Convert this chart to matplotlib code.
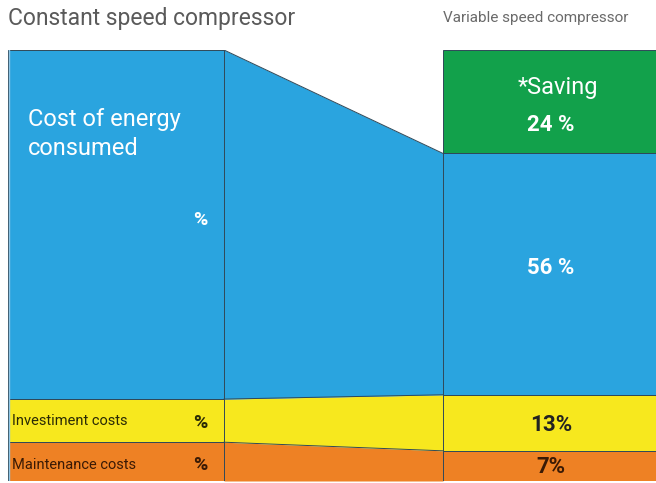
import matplotlib
matplotlib.use("Agg")
import matplotlib.pyplot as plt
import numpy as np

# ---- data ----
segments = ["Maintenance costs", "Investiment costs", "Cost of energy consumed", "*Saving"]
constant_values = [9, 10, 81, 0]
variable_values = [7, 13, 56, 24]
variable_labels = ["7%", "13%", "56 %", "24 %"]
constant_labels = ["%", "%", "%"]
colors = ["#EE8124", "#F7E81E", "#2AA4DF", "#12A14B"]
title_left = "Constant speed compressor"
title_right = "Variable speed compressor"

W, H = 656, 483
fig = plt.figure(figsize=(W / 100, H / 100), dpi=100)
fig.patch.set_facecolor("white")

# axes in pixel-like coordinates
ax = fig.add_axes([8 / W, 2 / H, 648 / W, 431 / H])
ax.set_xlim(0, 648)
ax.set_ylim(0, 100)
ax.axis("off")

xl0, xl1 = 0, 216      # constant-speed bar
xr0, xr1 = 435, 648    # variable-speed bar
edge = "#2f4858"

cum_c = np.concatenate([[0], np.cumsum(constant_values)])
cum_v = np.concatenate([[0], np.cumsum(variable_values)])

# stacked bars
for i, seg in enumerate(segments):
    if constant_values[i] > 0:
        ax.bar(xl0, constant_values[i], width=xl1 - xl0, bottom=cum_c[i], align="edge",
               color=colors[i], edgecolor=edge, linewidth=0.7, zorder=2)
    ax.bar(xr0, variable_values[i], width=xr1 - xr0, bottom=cum_v[i], align="edge",
           color=colors[i], edgecolor=edge, linewidth=0.7, zorder=2)
# soften the outer left edge
ax.plot([xl0 + 0.5, xl0 + 0.5], [0, 100], color="#8fc6e6", linewidth=1.0, zorder=3)

# connecting bands between the bars
xs = np.array([xl1, xr0])
for i in range(3):
    lo = np.array([cum_c[i], cum_v[i]])
    hi = np.array([cum_c[i + 1], cum_v[i + 1]])
    ax.fill_between(xs, lo, hi, color=colors[i], linewidth=0, zorder=1)
    ax.plot(xs, hi, color=edge, linewidth=0.7, zorder=3)

# titles
cond = ["Liberation Sans Narrow", "Roboto", "DejaVu Sans"]
bold = ["Roboto", "DejaVu Sans"]
fig.text(8 / W, 1 - 18 / H, title_left, ha="left", va="center", fontsize=16.5,
         color="#5a5a5a", family=cond, stretch="condensed")
fig.text(443 / W, 1 - 18 / H, title_right, ha="left", va="center", fontsize=11,
         color="#6a6a6a", family=cond, stretch="condensed")

def px(x, y):
    return (x - 8, (481 - y) / 431 * 100)

# left labels
ax.text(*px(28, 134), "Cost of energy\nconsumed", ha="left", va="center", fontsize=17,
        color="white", family=cond, linespacing=1.3, zorder=5)
ax.text(*px(200, 220), constant_labels[2], ha="center", va="center", fontsize=14,
        color="white", fontweight="bold", family=bold, zorder=5)
ax.text(*px(12, 421), segments[1], ha="left", va="center", fontsize=10.5,
        color="#2a2a05", family=cond, zorder=5)
ax.text(*px(200, 423), constant_labels[1], ha="center", va="center", fontsize=14,
        color="#2a2a05", fontweight="bold", family=bold, zorder=5)
ax.text(*px(12, 465), segments[0], ha="left", va="center", fontsize=10.5,
        color="#3a1a05", family=cond, zorder=5)
ax.text(*px(200, 465), constant_labels[0], ha="center", va="center", fontsize=14,
        color="#3a1a05", fontweight="bold", family=bold, zorder=5)

# right labels
xc = 551
ax.text(*px(558, 88), segments[3], ha="center", va="center", fontsize=17,
        color="white", family=cond, zorder=5)
ax.text(*px(xc, 125), variable_labels[3], ha="center", va="center", fontsize=16,
        color="white", fontweight="bold", family=bold, zorder=5)
ax.text(*px(xc, 268), variable_labels[2], ha="center", va="center", fontsize=16,
        color="white", fontweight="bold", family=bold, zorder=5)
ax.text(*px(xc, 425), variable_labels[1], ha="center", va="center", fontsize=16,
        color="#222222", fontweight="bold", family=bold, zorder=5)
ax.text(*px(xc, 467), variable_labels[0], ha="center", va="center", fontsize=16,
        color="#3a1a05", fontweight="bold", family=bold, zorder=5)

fig.savefig("out.png", dpi=100, facecolor="white")
